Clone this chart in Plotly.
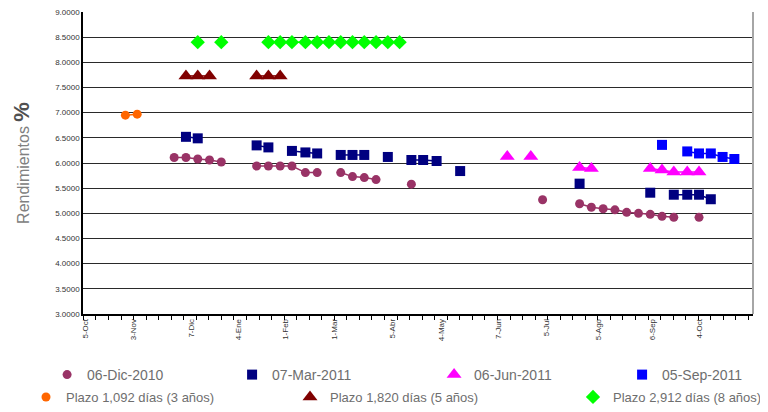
import plotly.graph_objects as go

N = None

weeks = [
    "2011-10-29", "2011-11-05", "2011-11-12", "2011-11-19", "2011-11-27", "2011-12-04",
    "2011-12-11", "2011-12-18", "2011-12-25", "2012-01-01", "2012-01-08", "2012-01-15",
    "2012-01-22", "2012-01-29", "2012-02-05", "2012-02-13", "2012-02-20", "2012-02-27",
    "2012-03-05", "2012-03-12", "2012-03-19", "2012-03-26", "2012-04-02", "2012-04-09",
    "2012-04-16", "2012-04-23", "2012-05-01", "2012-05-08", "2012-05-15", "2012-05-22",
    "2012-05-29", "2012-06-05", "2012-06-12", "2012-06-19", "2012-06-26", "2012-07-03",
    "2012-07-11", "2012-07-18", "2012-07-25", "2012-08-01", "2012-08-08", "2012-08-15",
    "2012-08-22", "2012-08-29", "2012-09-05", "2012-09-12", "2012-09-19", "2012-09-27",
    "2012-10-04", "2012-10-11", "2012-10-18", "2012-10-25",
]

dic2010 = [N, N, N, N, 6.11, 6.11, 6.08, 6.06, 6.02, N, N, 5.94, 5.94, 5.94, 5.94, 5.81, 5.81,
           N, 5.81, 5.73, 5.71, 5.67, N, N, 5.58, N, N, N, N, N, N, N, N, N, N, 5.27, N, N,
           5.19, 5.12, 5.09, 5.07, 5.02, 5.00, 4.98, 4.94, 4.92, N, 4.92, N, N, N]
mar2011 = [N, N, N, N, N, 6.52, 6.49, N, N, N, N, 6.35, 6.31, N, 6.24, 6.21, 6.19, N, 6.16,
           6.16, 6.16, N, 6.12, N, 6.06, 6.06, 6.04, N, 5.84, N, N, N, N, N, N, N, N, N, 5.59,
           N, N, N, N, N, 5.41, N, 5.37, 5.37, 5.37, 5.28, N, N]
jun2011 = [N, N, N, N, N, N, N, N, N, N, N, N, N, N, N, N, N, N, N, N, N, N, N, N, N, N, N,
           N, N, N, N, N, 6.13, N, 6.13, N, N, N, 5.91, 5.89, N, N, N, N, 5.89, 5.86, 5.82,
           5.82, 5.82, N, N, N]
sep2011 = [N, N, N, N, N, N, N, N, N, N, N, N, N, N, N, N, N, N, N, N, N, N, N, N, N, N, N,
           N, N, N, N, N, N, N, N, N, N, N, N, N, N, N, N, N, N, 6.36, N, 6.23, 6.19, 6.19,
           6.12, 6.08]
plazo3 = [6.95, 6.97, N, N, N, N, N, N, N, N, N, N, N, N, N, N, N, N, N, N, N, N, N, N, N, N,
          N, N, N, N, N, N, N, N, N, N, N, N, N, N, N, N, N, N, N, N, N, N, N, N, N, N]
plazo5 = [N, N, N, N, N, 7.73, 7.73, 7.73, N, N, N, 7.73, 7.73, 7.73, N, N, N, N, N, N, N, N,
          N, N, N, N, N, N, N, N, N, N, N, N, N, N, N, N, N, N, N, N, N, N, N, N, N, N, N, N,
          N, N]
plazo8 = [N, N, N, N, N, N, 8.40, N, 8.40, N, N, N, 8.40, 8.40, 8.40, 8.40, 8.40, 8.40, 8.40,
          8.40, 8.40, 8.40, 8.40, 8.40, N, N, N, N, N, N, N, N, N, N, N, N, N, N, N, N, N, N,
          N, N, N, N, N, N, N, N, N, N]

tick_dates = ["2011-10-05", "2011-11-03", "2011-12-07", "2012-01-04", "2012-02-01",
              "2012-03-01", "2012-04-05", "2012-05-04", "2012-06-07", "2012-07-05",
              "2012-08-05", "2012-09-06", "2012-10-04"]
tick_labels = ["5-Oct", "3-Nov", "7-Dic", "4-Ene", "1-Feb", "1-Mar", "5-Abr", "4-May",
               "7-Jun", "5-Jul", "5-Ago", "6-Sep", "4-Oct"]

y_ticks = [3.0, 3.5, 4.0, 4.5, 5.0, 5.5, 6.0, 6.5, 7.0, 7.5, 8.0, 8.5, 9.0]

series = [
    ("06-Dic-2010", dic2010, "#993366", "circle", 9, "legend", 140),
    ("07-Mar-2011", mar2011, "#000080", "square", 10, "legend", 157),
    ("06-Jun-2011", jun2011, "#FF00FF", "triangle-up", 13, "legend", 143),
    ("05-Sep-2011", sep2011, "#0000FF", "square", 10, "legend", 0),
    ("Plazo 1,092 días (3 años)", plazo3, "#FF6600", "circle", 9, "legend2", 0),
    ("Plazo 1,820 días (5 años)", plazo5, "#800000", "triangle-up", 13, "legend3", 0),
    ("Plazo 2,912 días (8 años)", plazo8, "#00FF00", "diamond", 11, "legend4", 0),
]

fig = go.Figure()
for name, vals, color, sym, size, lg, lw in series:
    fig.add_trace(go.Scatter(
        x=weeks, y=vals, mode="lines", connectgaps=False,
        line=dict(color=color, width=1.5), showlegend=False, hoverinfo="skip"))
    fig.add_trace(go.Scatter(
        x=weeks, y=vals, mode="markers", name=name, legend=lg, legendwidth=lw,
        marker=dict(symbol=sym, size=size, color=color, line=dict(width=0))))

small_font = dict(family="Liberation Sans, Arial", size=8, color="#333333")
row2_font = dict(family="Liberation Sans, Arial", size=13, color="#6e6e6e")


def row2_legend(x):
    return dict(orientation="h", xref="container", yref="container", x=x, y=0,
                xanchor="left", yanchor="bottom", font=row2_font,
                bgcolor="rgba(0,0,0,0)", tracegroupgap=0)


# page is shown with an 8px body margin, so the figure is 760x404
fig.update_layout(
    width=760, height=404,
    margin=dict(l=75, r=15, t=4, b=98),
    paper_bgcolor="white", plot_bgcolor="white",
    xaxis=dict(
        type="date", range=["2011-10-03 19:00", "2012-11-05 02:00"], automargin=False,
        tickmode="array", tickvals=tick_dates, ticktext=tick_labels, tickangle=-90,
        ticks="", tickfont=small_font, showgrid=False, zeroline=False,
        showline=True, linecolor="black", linewidth=1.5,
        minor=dict(ticks="outside", ticklen=4, tickcolor="black", tickwidth=1,
                   tick0="2011-10-04", dtick=644544000, showgrid=False),
    ),
    yaxis=dict(
        range=[3, 9], automargin=False, tickmode="array", tickvals=y_ticks,
        tickformat=".4f", tickfont=small_font, ticklabeloverflow="allow",
        showgrid=True, gridcolor="#2a2a2a", gridwidth=1.3, zeroline=False,
        showline=True, linecolor="black", linewidth=1.5, ticks="",
        title=dict(text="Rendimientos <span style='font-size:22px;font-weight:bold;color:#505050'>%</span>",
                   font=dict(family="Liberation Sans, Arial", size=16, color="#808080"),
                   standoff=22),
    ),
    legend=dict(orientation="h", x=-0.0536, y=-0.202, xanchor="left", yanchor="middle",
                font=dict(family="Liberation Sans, Arial", size=14, color="#6e6e6e"),
                bgcolor="rgba(0,0,0,0)", entrywidthmode="pixels", tracegroupgap=0),
    legend2=row2_legend(18 / 760),
    legend3=row2_legend(282 / 760),
    legend4=row2_legend(565 / 760),
    shapes=[dict(type="line", xref="paper", yref="paper", x0=1, x1=1, y0=0, y1=1,
                 line=dict(color="#a6a6a6", width=2))],
    showlegend=True,
)

fig.write_html("out.html")
